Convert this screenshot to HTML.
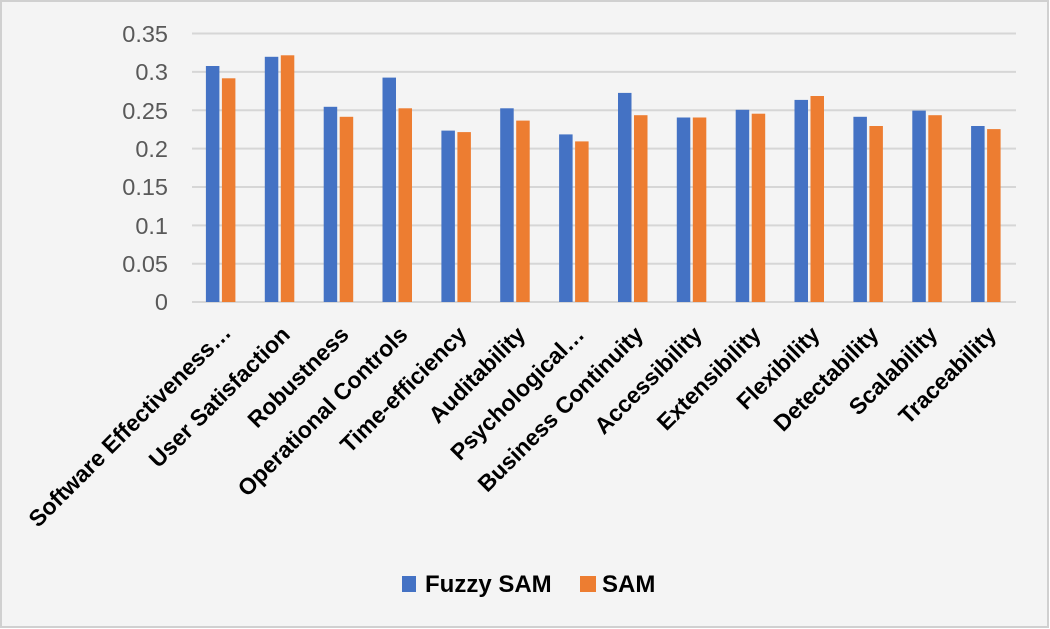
<!DOCTYPE html>
<html><head><meta charset="utf-8"><style>
html,body{margin:0;padding:0;background:#fff}
svg{display:block}
text{font-family:"Liberation Sans",sans-serif}
</style></head><body>
<svg width="1050" height="629" viewBox="0 0 1050 629" xmlns="http://www.w3.org/2000/svg">
<rect x="1" y="1" width="1047" height="626" fill="#f4f4f4" stroke="#d0d0d0" stroke-width="2"/>
<g stroke="#d6d6d6" stroke-width="2">
<line x1="192" x2="1016" y1="33.5" y2="33.5"/>
<line x1="192" x2="1016" y1="71.9" y2="71.9"/>
<line x1="192" x2="1016" y1="110.3" y2="110.3"/>
<line x1="192" x2="1016" y1="148.6" y2="148.6"/>
<line x1="192" x2="1016" y1="187" y2="187"/>
<line x1="192" x2="1016" y1="225.4" y2="225.4"/>
<line x1="192" x2="1016" y1="263.8" y2="263.8"/>
<line x1="192" x2="1016" y1="302" y2="302"/>
</g>
<g font-size="23.5" fill="#595959" text-anchor="end">
<text x="168" y="42">0.35</text>
<text x="168" y="80">0.3</text>
<text x="168" y="119">0.25</text>
<text x="168" y="157">0.2</text>
<text x="168" y="195">0.15</text>
<text x="168" y="234">0.1</text>
<text x="168" y="272">0.05</text>
<text x="168" y="310">0</text>
</g>
<g transform="translate(0,302) scale(1,-1)">
<g fill="#4472c4">
<rect x="205.9" y="0" width="13.5" height="236.0"/>
<rect x="264.8" y="0" width="13.5" height="245.2"/>
<rect x="323.7" y="0" width="13.5" height="195.2"/>
<rect x="382.5" y="0" width="13.5" height="224.4"/>
<rect x="441.4" y="0" width="13.5" height="171.4"/>
<rect x="500.2" y="0" width="13.5" height="193.7"/>
<rect x="559.1" y="0" width="13.5" height="167.6"/>
<rect x="618.0" y="0" width="13.5" height="209.1"/>
<rect x="676.8" y="0" width="13.5" height="184.5"/>
<rect x="735.7" y="0" width="13.5" height="192.2"/>
<rect x="794.5" y="0" width="13.5" height="202.1"/>
<rect x="853.4" y="0" width="13.5" height="185.2"/>
<rect x="912.3" y="0" width="13.5" height="191.4"/>
<rect x="971.1" y="0" width="13.5" height="176.0"/>
</g>
<g fill="#ed7d31">
<rect x="221.9" y="0" width="13.5" height="223.7"/>
<rect x="280.8" y="0" width="13.5" height="246.7"/>
<rect x="339.7" y="0" width="13.5" height="185.2"/>
<rect x="398.5" y="0" width="13.5" height="193.7"/>
<rect x="457.4" y="0" width="13.5" height="169.9"/>
<rect x="516.2" y="0" width="13.5" height="181.4"/>
<rect x="575.1" y="0" width="13.5" height="160.6"/>
<rect x="634.0" y="0" width="13.5" height="186.8"/>
<rect x="692.8" y="0" width="13.5" height="184.5"/>
<rect x="751.7" y="0" width="13.5" height="188.3"/>
<rect x="810.5" y="0" width="13.5" height="206.0"/>
<rect x="869.4" y="0" width="13.5" height="176.0"/>
<rect x="928.3" y="0" width="13.5" height="186.8"/>
<rect x="987.1" y="0" width="13.5" height="172.9"/>
</g>
</g>
<g font-size="23" font-weight="bold" fill="#000" text-anchor="end">
<text x="232.4" y="334" transform="rotate(-45 232.4 334)">Software Effectiveness…</text>
<text x="291.3" y="336" transform="rotate(-45 291.3 336)">User Satisfaction</text>
<text x="350.2" y="336" transform="rotate(-45 350.2 336)">Robustness</text>
<text x="409.0" y="336" transform="rotate(-45 409.0 336)">Operational Controls</text>
<text x="467.9" y="336" transform="rotate(-45 467.9 336)">Time-efficiency</text>
<text x="526.7" y="336" transform="rotate(-45 526.7 336)">Auditability</text>
<text x="585.6" y="336" transform="rotate(-45 585.6 336)">Psychological…</text>
<text x="644.5" y="336" transform="rotate(-45 644.5 336)">Business Continuity</text>
<text x="703.3" y="336" transform="rotate(-45 703.3 336)">Accessibility</text>
<text x="762.2" y="336" transform="rotate(-45 762.2 336)">Extensibility</text>
<text x="821.0" y="336" transform="rotate(-45 821.0 336)">Flexibility</text>
<text x="879.9" y="336" transform="rotate(-45 879.9 336)">Detectability</text>
<text x="938.8" y="336" transform="rotate(-45 938.8 336)">Scalability</text>
<text x="997.6" y="336" transform="rotate(-45 997.6 336)">Traceability</text>
</g>
<rect x="402" y="576" width="14" height="16" fill="#4472c4"/>
<text x="425" y="592" font-size="24" font-weight="bold">Fuzzy SAM</text>
<rect x="580" y="576" width="16" height="16" fill="#ed7d31"/>
<text x="602" y="592" font-size="24" font-weight="bold">SAM</text>
</svg>
</body></html>
